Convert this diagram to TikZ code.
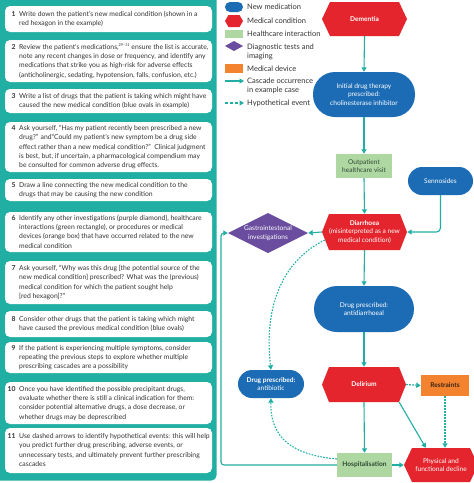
\documentclass[tikz,border=0pt]{standalone}
\usepackage{fontspec}
\setmainfont{Lato}
\usetikzlibrary{arrows.meta,calc}
\definecolor{cteal}{HTML}{22AFA3}
\definecolor{cblue}{HTML}{1C6CB5}
\definecolor{cred}{HTML}{E5252D}
\definecolor{cgreen}{HTML}{AFD7A2}
\definecolor{cpurple}{HTML}{6A4D9E}
\definecolor{corange}{HTML}{F3832E}
\definecolor{ctext}{HTML}{333333}
\definecolor{cgtext}{HTML}{2F4A35}
\definecolor{cotext}{HTML}{3B2314}
\newcommand{\lefttxt}{\fontsize{6.8}{9.3}\selectfont}
\newcommand{\flowtxt}{\fontsize{6.6}{8.7}\selectfont}
\newcommand{\legtxt}{\fontsize{7.5}{9}\selectfont}
\newcommand{\refsup}[1]{\raisebox{2.6pt}{\fontsize{3.8}{4}\selectfont #1}}
% hexagon: name, cx, cy, width, height, inset, text
\newcommand{\hexnode}[7]{%
  \fill[cred] (#2-#4/2,#3) -- (#2-#4/2+#6,#3-#5/2) -- (#2+#4/2-#6,#3-#5/2) -- (#2+#4/2,#3)
     -- (#2+#4/2-#6,#3+#5/2) -- (#2-#4/2+#6,#3+#5/2) -- cycle;
  \node[hexlbl, minimum width=#4, minimum height=#5] (#1) at (#2,#3) {#7};}
% diamond: name, cx, cy, width, height, text
\newcommand{\dianode}[6]{%
  \fill[cpurple] (#2-#4/2,#3) -- (#2,#3-#5/2) -- (#2+#4/2,#3) -- (#2,#3+#5/2) -- cycle;
  \node[hexlbl, minimum width=#4, minimum height=#5] (#1) at (#2,#3) {#6};}
% step box: name, number, top, bottom, lines, text
\newcommand{\stepitem}[6]{%
  \node[stepbox, minimum height=#4-#3] (#1) at (108.5,{(#3+#4)/2}) {};
  \node[steptext, anchor=north west] (#1t) at (19,{(#3+#4)/2-#5*4.65}) {\strut #6};
  \node[stepnum, anchor=north east] (#1n) at (15.8,{(#3+#4)/2-#5*4.65}) {\strut #2};}
\begin{document}
\begin{tikzpicture}[x=1pt,y=-1pt,
  stepbox/.style={fill=white, rounded corners=5, minimum width=207, inner sep=0},
  steptext/.style={font=\lefttxt, text=ctext, align=left, inner sep=0},
  stepnum/.style={font=\lefttxt\bfseries, text=ctext, inner sep=0},
  hexlbl/.style={font=\flowtxt, text=white, align=center, inner sep=0},
  oval/.style={fill=cblue, font=\flowtxt, text=white, align=center, inner sep=0},
  hcare/.style={fill=cgreen, font=\flowtxt, text=cgtext, align=center, inner sep=0},
  device/.style={fill=corange, font=\flowtxt\bfseries, text=cotext, align=center, inner sep=0},
  legtext/.style={font=\legtxt, text=ctext, align=left, inner sep=0, anchor=west},
  flow/.style={draw=cteal, line width=1.1pt, -{Triangle[width=5pt,length=4.5pt]}},
  hypo/.style={flow, dash pattern=on 1.6pt off 1.4pt},
  legdash/.style={flow, dash pattern=on 3pt off 2pt}]
\useasboundingbox (0,0) rectangle (474,483);
\fill[white] (0,0) rectangle (474,483);
% ---------------- left panel
\fill[cteal, rounded corners=5] (-6,-6) rectangle (216.5,480.5);
\stepitem{b1}{1}{6}{32}{2}{Write down the patient’s new medical condition (shown in a\\red hexagon in the example)}
\stepitem{b2}{2}{40}{82}{4}{Review the patient’s medications,\refsup{29–31} ensure the list is accurate,\\note any recent changes in dose or frequency, and identify any\\medications that strike you as high-risk for adverse effects\\(anticholinergic, sedating, hypotension, falls, confusion, etc.)}
\stepitem{b3}{3}{89}{113}{2}{Write a list of drugs that the patient is taking which might have\\caused the new medical condition (blue ovals in example)}
\stepitem{b4}{4}{122}{172}{5}{Ask yourself, “Has my patient recently been prescribed a new\\drug?” and“Could my patient’s new symptom be a drug side\\effect rather than a new medical condition?”\ \ Clinical judgment\\is best, but, if uncertain, a pharmacological compendium may\\be consulted for common adverse drug effects.}
\stepitem{b5}{5}{179}{201}{2}{Draw a line connecting the new medical condition to the\\drugs that may be causing the new condition}
\stepitem{b6}{6}{212}{252}{4}{Identify any other investigations (purple diamond), healthcare\\interactions (green rectangle), or procedures or medical\\devices (orange box) that have occurred related to the new\\medical condition}
\stepitem{b7}{7}{261}{304}{4}{Ask yourself, “Why was this drug [the potential source of the\\new medical condition] prescribed? What was the (previous)\\medical condition for which the patient sought help\\{}[red hexagon]?”}
\stepitem{b8}{8}{311}{337}{2}{Consider other drugs that the patient is taking which might\\have caused the previous medical condition (blue ovals)}
\stepitem{b9}{9}{342}{373}{3}{If the patient is experiencing multiple symptoms, consider\\repeating the previous steps to explore whether multiple\\prescribing cascades are a possibility}
\stepitem{b10}{10}{382}{424}{4}{Once you have identified the possible precipitant drugs,\\evaluate whether there is still a clinical indication for them:\\consider potential alternative drugs, a dose decrease, or\\whether drugs may be deprescribed}
\stepitem{b11}{11}{428}{473}{4}{Use dashed arrows to identify hypothetical events: this will help\\you predict further drug prescribing, adverse events, or\\unnecessary tests, and ultimately prevent further prescribing\\cascades}
% ---------------- legend
\fill[cblue, rounded corners=5] (225,2) rectangle (243,12);
\fill[cred] (225,21) -- (228.5,15) -- (239.5,15) -- (243,21) -- (239.5,27) -- (228.5,27) -- cycle;
\fill[cgreen] (225,29.5) rectangle (243,37.5);
\fill[cpurple] (225,46) -- (234,41) -- (243,46) -- (234,51) -- cycle;
\fill[corange] (225,64) rectangle (243,73);
\coordinate (la1) at (225,81); \coordinate (la2) at (244,81);
\draw[flow] (la1) -- (la2);
\coordinate (lb1) at (225,103); \coordinate (lb2) at (244,103);
\draw[legdash] (lb1) -- (lb2);
\node[legtext] (l1) at (247,7) {New medication};
\node[legtext] (l2) at (247,21) {Medical condition};
\node[legtext] (l3) at (247,34) {Healthcare interaction};
\node[legtext] (l4) at (247,51.5) {Diagnostic tests and\\imaging};
\node[legtext] (l5) at (247,69) {Medical device};
\node[legtext] (l6) at (247,85.5) {Cascade occurrence\\in example case};
\node[legtext] (l7) at (247,103) {Hypothetical event};
% ---------------- flowchart nodes
\hexnode{dem}{364.5}{19}{85}{34}{8}{\textbf{Dementia}}
\node[oval, minimum width=102, minimum height=45, rounded corners=22] (init) at (364,94.5) {Initial drug therapy\\prescribed:\\cholinesterase inhibitor};
\node[hcare, minimum width=56, minimum height=24] (outp) at (364,166) {Outpatient\\healthcare visit};
\node[oval, minimum width=65, minimum height=28, rounded corners=14] (senn) at (440.5,181) {Sennosides};
\hexnode{diar}{364.5}{232}{85}{36}{7}{\textbf{Diarrhoea}\\(misinterpreted as a new\\medical condition)}
\dianode{gi}{268}{233}{80}{40}{Gastrointestonal\\investigations}
\node[oval, minimum width=100, minimum height=46, rounded corners=23] (adia) at (364,309) {Drug prescribed:\\antidiarrhoeal};
\hexnode{del}{364}{384.5}{84}{35}{7}{\textbf{Delirium}}
\node[device, minimum width=48, minimum height=21] (rest) at (445,385.5) {Restraints};
\node[oval, minimum width=66, minimum height=28, rounded corners=14] (abx) at (271,384) {\textbf{Drug prescribed:}\\antibiotic};
\node[hcare, font=\flowtxt\bfseries, minimum width=55, minimum height=24] (hosp) at (364.5,465) {Hospitalisation};
\hexnode{phys}{441}{465}{74}{34}{8}{Physical and\\functional decline}
\coordinate (loopx) at (221,0);
% ---------------- connectors
\draw[flow] (dem.south) -- (init.north);
\draw[flow] (init.south) -- (outp.north);
\draw[flow] (outp.south) -- (diar.north);
\draw[flow, rounded corners=4] (senn.south) |- (diar.east);
\draw[flow] (diar.west) -- (gi.east);
\draw[flow] (diar.south) -- (adia.north);
\draw[flow] (adia.south) -- (del.north);
\draw[hypo] (del.east) -- (rest.west);
\draw[hypo] (rest.south) -- (rest.south |- phys.north);
\draw[flow] ($(del.south east)+(-7,0)$) -- ($(phys.north west)+(22,0)$);
\draw[flow] (del.south) -- (hosp.north);
\draw[flow] (hosp.east) -- (phys.west);
\draw[flow, rounded corners=3] (hosp.west) -- (hosp.west -| loopx) |- (gi.west);
\draw[hypo] ($(diar.west)+(3,8)$) .. controls (280,262) and (264,310) .. (abx.north);
\draw[hypo] ($(hosp.west)+(0,-6)$) .. controls (295,455) and (270,440) .. (abx.south);
\end{tikzpicture}
\end{document}
